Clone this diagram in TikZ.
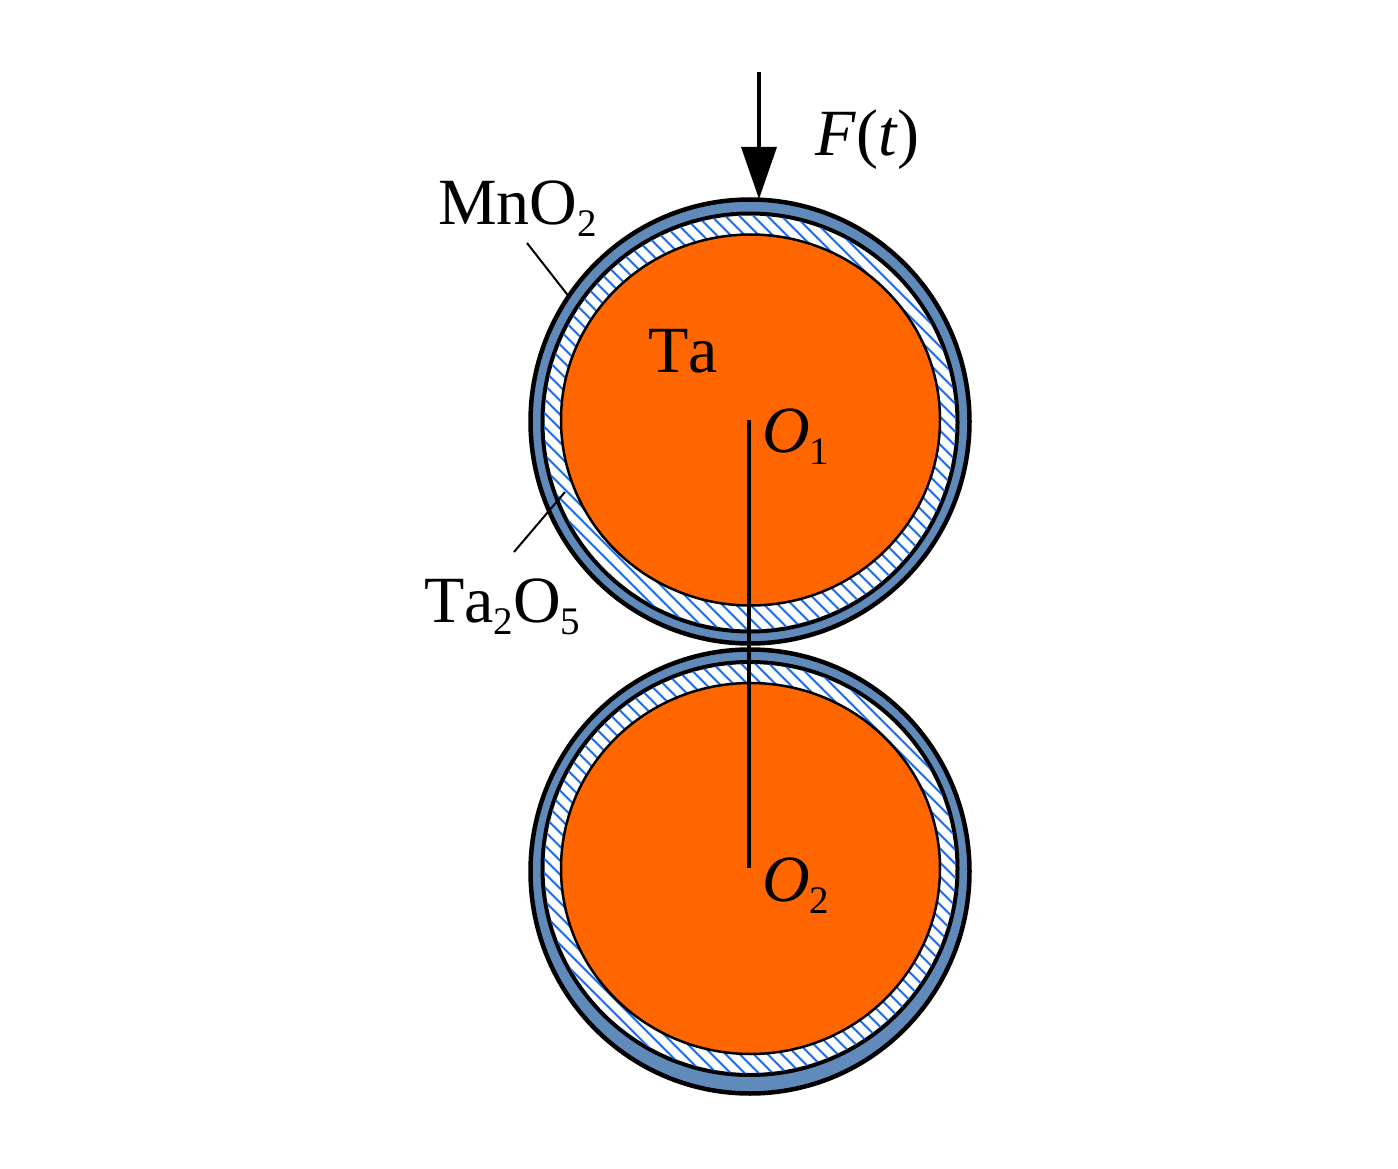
\documentclass[tikz,border=0pt]{standalone}
\usepackage{fontspec}
\setmainfont[Kerning=Off]{Liberation Serif}
\usetikzlibrary{arrows.meta}
\definecolor{ringblue}{HTML}{5F8ABA}
\definecolor{hatchblue}{HTML}{1A6BE8}
\definecolor{taorange}{HTML}{FF6600}
\newcommand{\bigtext}{\fontsize{66}{70}\selectfont}
\newcommand{\subt}[1]{\raisebox{-12pt}{\fontsize{39}{40}\selectfont #1}}
\tikzset{
  lbl/.style={inner sep=0pt,anchor=base west,font=\bigtext,text=black},
  outerring/.style={draw=black,line width=4.5pt,fill=ringblue},
  innerring/.style={draw=black,line width=4pt,fill=white},
  core/.style={draw=black,line width=2.5pt,fill=taorange},
  hatchline/.style={draw=hatchblue,line width=2pt},
  leader/.style={draw=black,line width=2pt},
  axis/.style={draw=black,line width=4pt},
  force/.style={draw=black,line width=3.5pt,-{Triangle[length=52pt,width=35pt]}},
}
% #1 outer centre y, #2 inner centre y, #3 inner y radius, #4 core centre y
\newcommand{\roller}[4]{%
  \draw[outerring] (750,#1) ellipse [x radius=219.5,y radius=222];
  \draw[innerring] (750,#2) ellipse [x radius=207.5,y radius=#3];
  \begin{scope}
    \clip (750,#2) ellipse [x radius=206,y radius={#3-1.5}];
    \foreach \d in {-36,-35,...,36} {
      \draw[hatchline] ({750+\d*14-240},{#2-240}) -- ({750+\d*14+240},{#2+240});
    }
  \end{scope}
  \draw[core] (750.5,#4) ellipse [x radius=189.5,y radius=185.5];
}
\begin{document}
\begin{tikzpicture}[x=1pt,y=-1pt]
\useasboundingbox (0,0) rectangle (1398,1169);
\roller{421.5}{422.5}{209}{420}
\roller{871.5}{868.5}{206.5}{868.5}
\coordinate (c1) at (749,420);
\coordinate (c2) at (749,868);
\draw[axis] (c1) -- (c2);
\coordinate (ftop) at (759,72);
\coordinate (fend) at (759,199);
\draw[force] (ftop) -- (fend);
\node[lbl] (mno) at (438,225) {MnO\subt{2}};
\node[lbl] (tao) at (424,622) {Ta\subt{2}O\subt{5}};
\node[lbl] (ta) at (648,372) {Ta};
\node[lbl] (o1) at (762,452) {\textit{O}\subt{1}};
\node[lbl] (o2) at (762,901) {\textit{O}\subt{2}};
\node[lbl] (ft) at (815,156) {\textit{F}(\textit{t})};
\coordinate (l1a) at (527,243);
\coordinate (l1b) at (570,298);
\coordinate (l2a) at (514,552);
\coordinate (l2b) at (565,492);
\draw[leader] (l1a) -- (l1b);
\draw[leader] (l2a) -- (l2b);
\end{tikzpicture}
\end{document}
